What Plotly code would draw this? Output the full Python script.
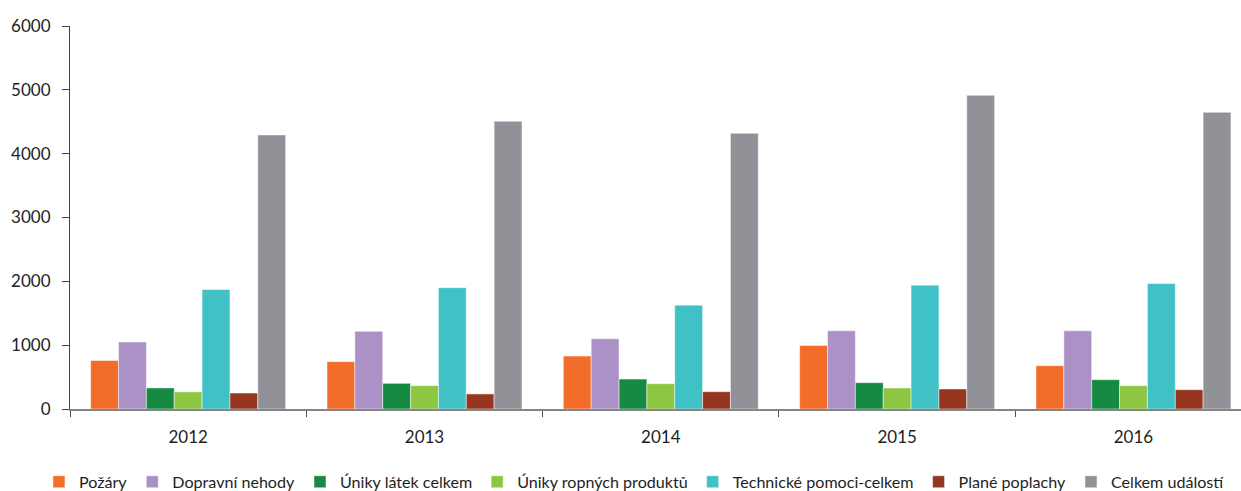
import plotly.graph_objects as go

years = ["2012", "2013", "2014", "2015", "2016"]

pozary = [760, 742, 829, 995, 678]
dopravni_nehody = [1050, 1217, 1100, 1225, 1225]
uniky_latek = [330, 402, 469, 412, 459]
uniky_ropnych = [268, 366, 396, 329, 365]
technicke_pomoci = [1872, 1900, 1627, 1940, 1966]
plane_poplachy = [250, 236, 271, 313, 302]
celkem_udalosti = [4293, 4508, 4319, 4914, 4648]

series_names = [
    "Požáry",
    "Dopravní nehody",
    "Úniky látek celkem",
    "Úniky ropných produktů",
    "Technické pomoci-celkem",
    "Plané poplachy",
    "Celkem událostí",
]
series_values = [pozary, dopravni_nehody, uniky_latek, uniky_ropnych,
                 technicke_pomoci, plane_poplachy, celkem_udalosti]
colors = ["#F26C2A", "#AB91C5", "#168A42", "#8DC641", "#3FC1C5", "#963620", "#919297"]

y_ticks = [0, 1000, 2000, 3000, 4000, 5000, 6000]

fig = go.Figure()
for name, vals, col in zip(series_names, series_values, colors):
    fig.add_trace(go.Bar(
        x=years, y=vals, name=name,
        marker=dict(color=col, line=dict(color="rgba(255,255,255,0.6)", width=0.8)),
    ))

font = "Lato, 'Open Sans', sans-serif"
fig.update_layout(
    width=1241, height=491,
    margin=dict(l=70, r=0, t=26, b=82, autoexpand=False),
    paper_bgcolor="white", plot_bgcolor="white",
    barmode="group", bargap=0.175, bargroupgap=0,
    font=dict(family=font, size=17, color="#1e1e1e"),
    showlegend=True,
    legend=dict(
        orientation="h", xref="paper", yref="paper",
        x=-0.0265, xanchor="left", y=-0.19, yanchor="middle",
        font=dict(size=16.1), itemwidth=30, traceorder="normal",
        bgcolor="rgba(0,0,0,0)", borderwidth=0,
    ),
    xaxis=dict(
        type="category", range=[-0.5, 4.455],
        showline=True, linecolor="#858585", linewidth=1.6,
        ticks="outside", tickson="boundaries", ticklen=6, tickcolor="#505050",
        tickwidth=1.2, showgrid=False, zeroline=False,
        ticklabelstandoff=12, automargin=False,
    ),
    yaxis=dict(
        range=[0, 6000], tickvals=y_ticks, ticktext=[str(v) for v in y_ticks],
        showline=True, linecolor="#404040", linewidth=1.1,
        ticks="outside", ticklen=7, tickcolor="#404040", tickwidth=1.1,
        showgrid=False, zeroline=False,
        ticklabelstandoff=8, automargin=False,
    ),
)

fig.write_html(
    "out.html",
    config={"displayModeBar": False},
    post_script="document.body.style.margin='0';document.body.style.overflow='hidden';",
)
